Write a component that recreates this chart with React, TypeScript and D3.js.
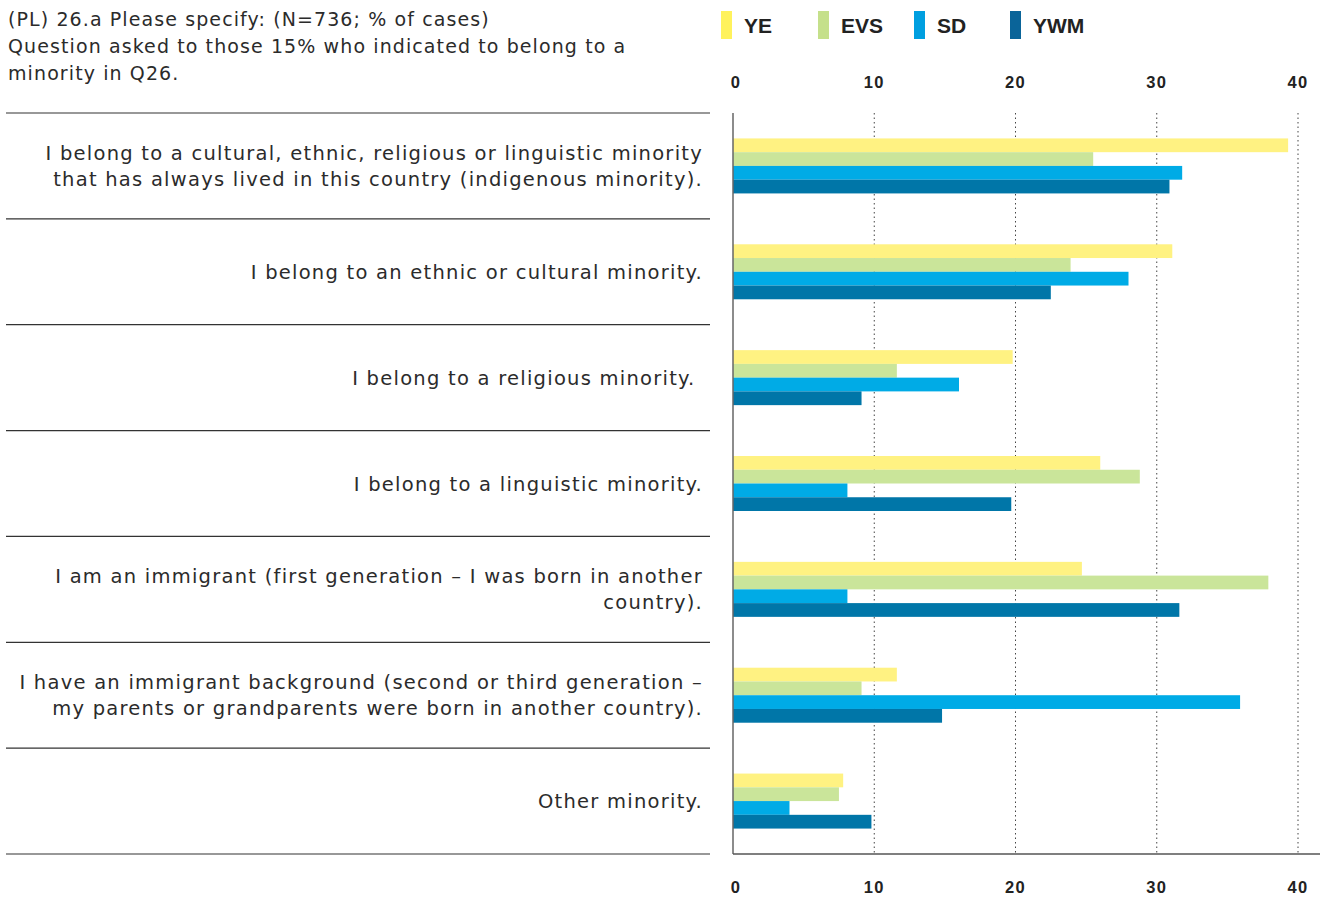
import React, { useEffect, useRef } from 'react';
import * as d3 from 'd3';

const categories: string[][] = [
  ['I belong to a cultural, ethnic, religious or linguistic minority', 'that has always lived in this country (indigenous minority).'],
  ['I belong to an ethnic or cultural minority.'],
  ['I belong to a religious minority. '],
  ['I belong to a linguistic minority.'],
  ['I am an immigrant (first generation \u2013 I was born in another', 'country).'],
  ['I have an immigrant background (second or third generation \u2013', 'my parents or grandparents were born in another country).'],
  ['Other minority.'],
];

const seriesNames = ['YE', 'EVS', 'SD', 'YWM'];
const yeValues = [39.3, 31.1, 19.8, 26.0, 24.7, 11.6, 7.8];
const evsValues = [25.5, 23.9, 11.6, 28.8, 37.9, 9.1, 7.5];
const sdValues = [31.8, 28.0, 16.0, 8.1, 8.1, 35.9, 4.0];
const ywmValues = [30.9, 22.5, 9.1, 19.7, 31.6, 14.8, 9.8];
const ticks = [0, 10, 20, 30, 40];

const barColors = ['#fff282', '#cae59a', '#00abe6', '#0076a8'];
const legendColors = ['#fff25c', '#c5e08b', '#009fe0', '#0a6499'];

const FONT = '"DejaVu Sans", "Noto Sans", sans-serif';
const BOLD = '"Liberation Sans", Arial, sans-serif';

const App = () => {
  const svgRef = useRef<SVGSVGElement>(null);

  useEffect(() => {
    document.body.style.margin = '0';
    document.body.style.overflow = 'hidden';

    const svg = d3.select(svgRef.current);
    svg.selectAll('*').remove();

    const width = 1324;
    const height = 897;
    svg.attr('width', width).attr('height', height);

    const x0 = 733;
    const top = 113;
    const bottom = 854;

    const xScale = d3.scaleLinear().domain([0, 40]).range([x0, 1298]);
    const yScale = d3.scaleBand<number>()
      .domain(d3.range(categories.length))
      .range([top, bottom]);
    const inner = d3.scaleBand<string>()
      .domain(seriesNames)
      .range([-27.5, 27.5]);

    const allValues = [yeValues, evsValues, sdValues, ywmValues];

    // Title
    const title = svg.append('text')
      .attr('x', 8)
      .attr('font-family', FONT)
      .attr('font-size', 19)
      .attr('letter-spacing', 1.1)
      .attr('fill', '#2b2b2b');
    ['(PL) 26.a Please specify: (N=736; % of cases)',
      'Question asked to those 15% who indicated to belong to a',
      'minority in Q26.'].forEach((t, i) => {
      title.append('tspan').attr('x', 8).attr('y', 26 + i * 27).text(t);
    });

    // Legend
    seriesNames.forEach((name, i) => {
      const lx = [721, 818, 914, 1010][i];
      svg.append('rect')
        .attr('x', lx).attr('y', 11).attr('width', 11).attr('height', 28)
        .attr('fill', legendColors[i]);
      svg.append('text')
        .attr('x', lx + 23).attr('y', 33)
        .attr('font-family', BOLD)
        .attr('font-weight', 'bold')
        .attr('font-size', 21)
        .attr('fill', '#222')
        .text(name);
    });

    // Gridlines
    ticks.filter(t => t > 0).forEach(t => {
      svg.append('line')
        .attr('x1', xScale(t)).attr('x2', xScale(t))
        .attr('y1', top).attr('y2', bottom)
        .attr('stroke', '#444')
        .attr('stroke-width', 1)
        .attr('stroke-dasharray', '1.5,3');
    });

    // Tick labels top and bottom
    [88, 893].forEach(ty => {
      ticks.forEach(t => {
        svg.append('text')
          .attr('x', xScale(t) + (t === 0 ? 3 : 0))
          .attr('y', ty)
          .attr('text-anchor', 'middle')
          .attr('font-family', BOLD)
          .attr('font-weight', 'bold')
          .attr('font-size', 16.5)
          .attr('letter-spacing', 1.2)
          .attr('fill', '#222')
          .text(t);
      });
    });

    // Row separators
    d3.range(categories.length + 1).forEach(i => {
      const yy = top + i * yScale.step();
      svg.append('line')
        .attr('x1', 6).attr('x2', 710)
        .attr('y1', yy).attr('y2', yy)
        .attr('stroke', '#333')
        .attr('stroke-width', 1.2);
    });

    // Bars
    categories.forEach((_, ci) => {
      const cy = (yScale(ci) as number) + yScale.bandwidth() / 2;
      seriesNames.forEach((s, si) => {
        svg.append('rect')
          .attr('x', x0)
          .attr('y', cy + (inner(s) as number))
          .attr('width', xScale(allValues[si][ci]) - x0)
          .attr('height', inner.bandwidth())
          .attr('fill', barColors[si]);
      });
    });

    // Category labels
    categories.forEach((lines, ci) => {
      const cy = (yScale(ci) as number) + yScale.bandwidth() / 2;
      const startY = cy - ((lines.length - 1) * 26) / 2 + 7;
      lines.forEach((ln, li) => {
        svg.append('text')
          .attr('x', 703)
          .attr('y', startY + li * 26)
          .attr('text-anchor', 'end')
          .attr('font-family', FONT)
          .attr('font-size', 19.5)
          .attr('letter-spacing', 1.25)
          .attr('fill', '#2b2b2b')
          .style('white-space', 'pre')
          .text(ln);
      });
    });

    // Axes lines
    svg.append('line')
      .attr('x1', x0).attr('x2', x0)
      .attr('y1', top).attr('y2', bottom)
      .attr('stroke', '#666').attr('stroke-width', 1.5);
    svg.append('line')
      .attr('x1', x0).attr('x2', 1320)
      .attr('y1', bottom).attr('y2', bottom)
      .attr('stroke', '#555').attr('stroke-width', 1.5);
  }, []);

  return (
    <div style={{ position: 'absolute', left: 0, top: 0 }}>
      <svg ref={svgRef} style={{ display: 'block' }}></svg>
    </div>
  );
};

export default App;
